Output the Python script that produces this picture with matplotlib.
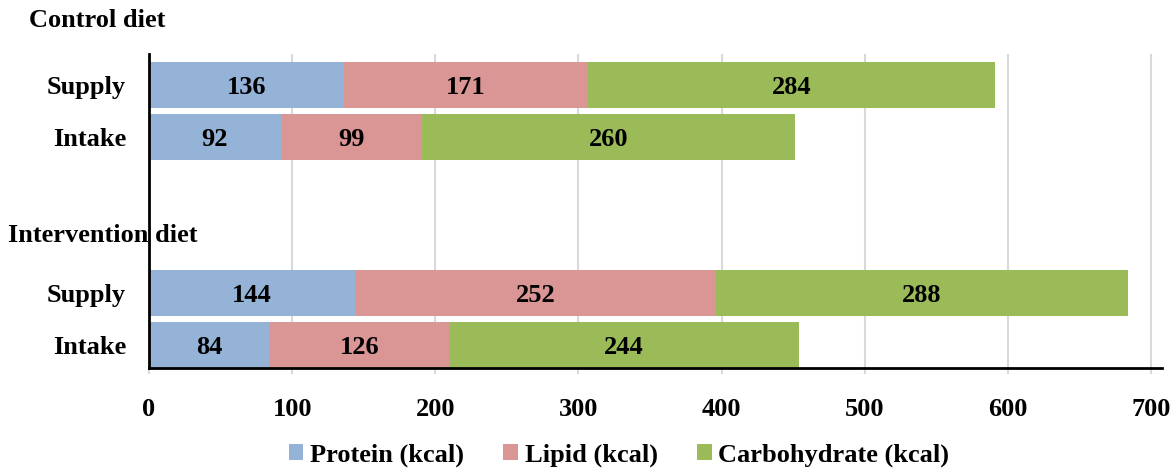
import matplotlib.pyplot as plt
import numpy as np

plt.rcParams['font.family'] = ['Liberation Serif', 'DejaVu Serif']
plt.rcParams['font.weight'] = 'bold'

# data
row_labels = ['Supply', 'Intake', 'Supply', 'Intake']
group_labels = ['Control diet', 'Intervention diet']
protein = [136, 92, 144, 84]
lipid = [171, 99, 252, 126]
carbohydrate = [284, 260, 288, 244]
series_names = ['Protein (kcal)', 'Lipid (kcal)', 'Carbohydrate (kcal)']
x_ticks = [0, 100, 200, 300, 400, 500, 600, 700]

colors = ['#95B3D7', '#D99694', '#9BBB59']
ypos = np.array([5, 4, 1, 0])
fs = 19

fig = plt.figure(figsize=(11.76, 4.72), dpi=100)
ax = fig.add_axes([149 / 1176, 1 - 368 / 472, (1162 - 149) / 1176, (368 - 54) / 472])

left = np.zeros(len(ypos))
for vals, name, c in zip([protein, lipid, carbohydrate], series_names, colors):
    vals = np.array(vals)
    ax.barh(ypos, vals, left=left, height=0.885, color=c, label=name, zorder=3)
    for y, l, v in zip(ypos, left, vals):
        ax.text(l + v / 2, y, str(v), ha='center', va='center_baseline',
                fontsize=fs, fontweight='bold', zorder=4)
    left = left + vals

ax.set_xlim(0, 707.7)
ax.set_ylim(-0.44, 5.6)
ax.set_xticks(x_ticks)
ax.set_xticklabels([str(t) for t in x_ticks], fontsize=fs, fontweight='bold')
ax.set_yticks(ypos)
ax.set_yticklabels(row_labels, fontsize=fs, fontweight='bold')
ax.tick_params(axis='y', length=0, pad=16.5)
ax.tick_params(axis='x', length=4.5, width=1.5, color='#D9D9D9', pad=17)

ax.grid(axis='x', color='#D9D9D9', linewidth=1.5, zorder=0)
ax.set_axisbelow(True)
for s in ['top', 'right']:
    ax.spines[s].set_visible(False)
for s in ['left', 'bottom']:
    ax.spines[s].set_linewidth(2)
    ax.spines[s].set_color('black')
    ax.spines[s].set_zorder(5)

fig.text(29 / 1176, 1 - 27 / 472, group_labels[0], fontsize=fs, fontweight='bold',
         ha='left', va='baseline')
fig.text(8 / 1176, 1 - 242 / 472, group_labels[1], fontsize=fs, fontweight='bold',
         ha='left', va='baseline', zorder=10)

fig.legend(loc='center', bbox_to_anchor=(619 / 1176, 1 - 455 / 472), ncol=3,
           frameon=False, fontsize=fs, handlelength=0.55, handleheight=0.55,
           handletextpad=0.25, columnspacing=1.5)

fig.savefig('out.png', dpi=100)
